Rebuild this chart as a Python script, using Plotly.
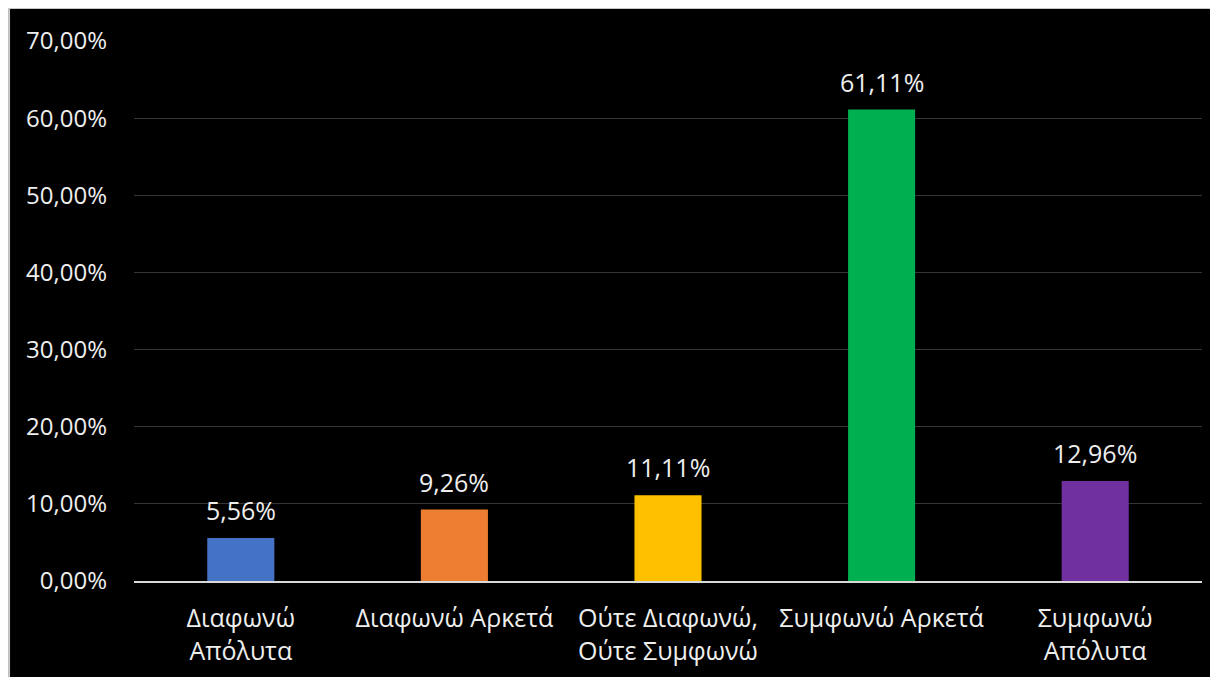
import plotly.graph_objects as go

# ! Data
categories = ['Διαφωνώ<br>Απόλυτα', 'Διαφωνώ Αρκετά', 'Ούτε Διαφωνώ,<br>Ούτε Συμφωνώ',
              'Συμφωνώ Αρκετά', 'Συμφωνώ<br>Απόλυτα']
shares = [0.0556, 0.0926, 0.1111, 0.6111, 0.1296]
bar_colors = ['#4472C4', '#ED7D31', '#FFC000', '#00B050', '#7030A0']

font_name = 'Open Sans'
text_color = '#eeeeee'

fig = go.Figure()
fig.add_bar(x=categories, y=shares, marker_color=bar_colors, marker_line_width=0,
            hoverinfo='skip')

# value labels above the bars
for cat, val in zip(categories, shares):
    fig.add_annotation(x=cat, y=val, text=('{:.2f}%'.format(val * 100)).replace('.', ','),
                       showarrow=False, yanchor='bottom', yshift=9,
                       font=dict(family=font_name, size=25, color=text_color))

# thin grey frame round the chart (top / left edge)
fig.add_shape(type='line', xref='paper', yref='paper', x0=-0.12, x1=1.1, y0=1.061, y1=1.061,
              line=dict(color='#c8c8c8', width=2))
fig.add_shape(type='line', xref='paper', yref='paper', x0=-0.117, x1=-0.117, y0=-0.3, y1=1.061,
              line=dict(color='#c8c8c8', width=2))

fig.update_layout(width=1218, height=677,
                  margin=dict(l=126, r=24, t=33, b=104),
                  paper_bgcolor='black',
                  plot_bgcolor='black',
                  separators=',.',
                  bargap=0.686,
                  showlegend=False,
                  font=dict(family=font_name, size=24, color=text_color),
                  )
fig.update_yaxes(range=[0, 0.7], dtick=0.1, tickformat='.2%',
                 showgrid=True, gridcolor='#363636', gridwidth=1,
                 zeroline=False, showline=False, ticks='',
                 ticklabelstandoff=26,
                 tickfont=dict(family=font_name, size=24, color=text_color))
fig.update_xaxes(showline=True, linecolor='#d9d9d9', linewidth=2, ticks='',
                 ticklabelstandoff=14,
                 tickfont=dict(family=font_name, size=25, color=text_color))

fig.write_html('out.html')
